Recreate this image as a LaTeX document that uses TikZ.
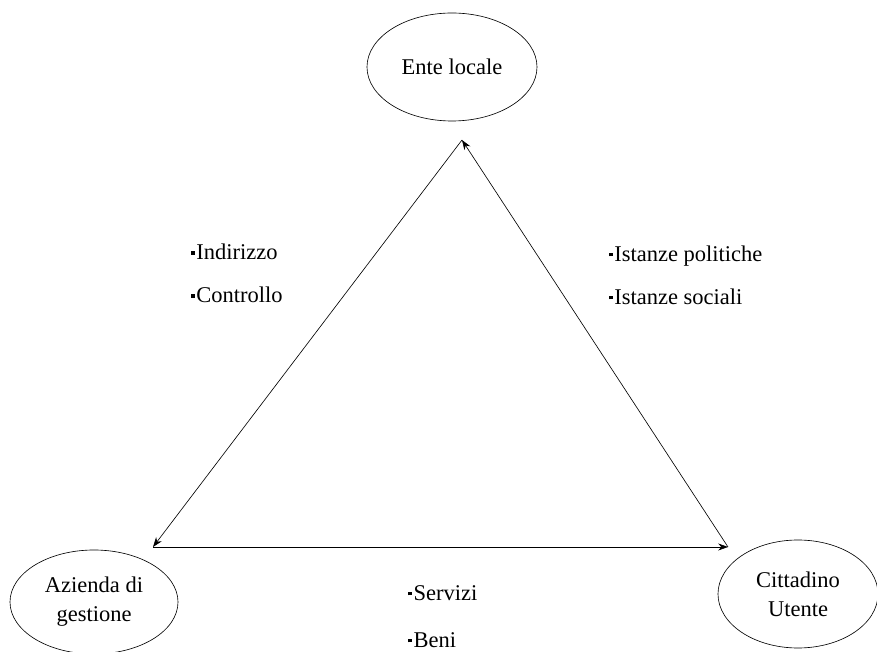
\documentclass[tikz,border=0pt]{standalone}
\usepackage{fontspec}
\setmainfont{Liberation Serif}
\usetikzlibrary{shapes.geometric,arrows.meta}
\newcommand{\bul}{\raisebox{0.22em}{\rule{0.16em}{0.16em}}\hspace{0.08em}}
\begin{document}
\begin{tikzpicture}[-{Stealth[length=7pt,width=5pt]},line width=0.45pt,
                    font=\fontsize{16}{20.5}\selectfont]
\useasboundingbox (0,0) rectangle (21.925,16.3);
\tikzset{ente/.style={draw, ellipse, inner sep=0pt, align=center}}
\node[ente, minimum width=4.25cm, minimum height=2.7cm] (E) at (11.3,14.625) {Ente locale};
\node[ente, minimum width=4.2cm, minimum height=2.6cm] (A) at (2.35,1.25) {Azienda di\\gestione};
\node[ente, minimum width=4.0cm, minimum height=2.7cm] (C) at (19.95,1.45) {Cittadino\\Utente};

\coordinate (top) at (11.55,12.8);
\coordinate (sx) at (3.825,2.625);
\coordinate (dx) at (18.2,2.625);

\draw (top) -- (sx);
\draw (dx) -- (top);
\draw (sx) -- (dx);

\node[align=left, anchor=west, font=\fontsize{16}{30.6}\selectfont] (L1) at (4.65,9.46) {\bul Indirizzo\\\bul Controllo};
\node[align=left, anchor=west, font=\fontsize{16}{30.6}\selectfont] (L2) at (15.1,9.42) {\bul Istanze politiche\\\bul Istanze sociali};
\node[align=left, anchor=west, font=\fontsize{16}{33.4}\selectfont] (L3) at (10.08,0.89) {\bul Servizi\\\bul Beni};

\end{tikzpicture}
\end{document}
